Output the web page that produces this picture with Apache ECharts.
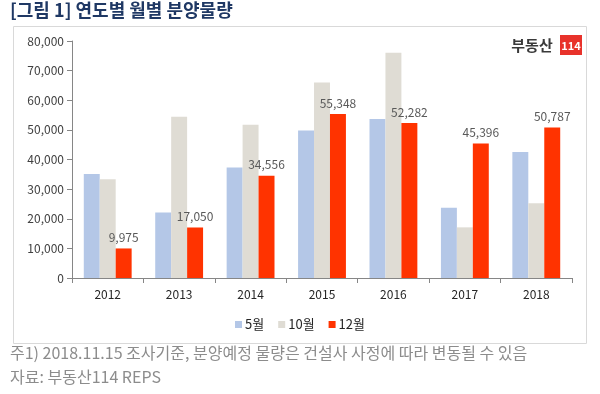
<!DOCTYPE html>
<html><head><meta charset="utf-8">
<script src="https://cdn.jsdelivr.net/npm/echarts@6/dist/echarts.min.js"></script>
<style>html,body{margin:0;padding:0;background:#fff}#c{width:600px;height:394px}</style>
</head><body><div id="c"></div>
<script>
const years = ['2012','2013','2014','2015','2016','2017','2018'];
const seriesNames = ['5월','10월','12월'];
const may = [35100, 22100, 37300, 49800, 53700, 23700, 42500];
const oct = [33300, 54400, 51700, 66000, 76000, 17100, 25200];
const dec = [9975, 17050, 34556, 55348, 52282, 45396, 50787];
const yTicks = [0, 10000, 20000, 30000, 40000, 50000, 60000, 70000, 80000];

const colors = ['#b4c7e7', '#dfdcd4', '#ff3300'];
const font = '"Noto Sans CJK KR", "Noto Sans", sans-serif';
const chart = echarts.init(document.getElementById('c'));
const fmt = v => v.toLocaleString('en-US');
chart.setOption({
  animation: false,
  textStyle: {fontFamily: font},
  grid: {left: 72, right: 28, top: 41, bottom: 116},
  legend: {
    data: seriesNames, bottom: 58, left: 'center', itemWidth: 7, itemHeight: 7, itemGap: 14,
    icon: 'rect', textStyle: {fontSize: 13, color: '#262626', fontFamily: font, padding: [0, 0, 0, -2]}
  },
  xAxis: {
    type: 'category', data: years,
    axisLine: {lineStyle: {color: '#868686'}},
    axisTick: {show: true, length: 5, lineStyle: {color: '#868686'}},
    axisLabel: {fontSize: 12, color: '#262626', margin: 10}
  },
  yAxis: {
    type: 'value', min: yTicks[0], max: yTicks[yTicks.length-1], interval: 10000,
    axisLine: {show: true, lineStyle: {color: '#868686'}},
    axisTick: {show: true, length: 5, lineStyle: {color: '#868686'}},
    splitLine: {show: false},
    axisLabel: {fontSize: 12, color: '#404040', margin: 8, formatter: v => fmt(v)}
  },
  series: [
    {name: seriesNames[0], type: 'bar', data: may, itemStyle: {color: colors[0]}, barGap: '0%', barCategoryGap: '33%'},
    {name: seriesNames[1], type: 'bar', data: oct, itemStyle: {color: colors[1]}, barGap: '0%', barCategoryGap: '33%'},
    {name: seriesNames[2], type: 'bar', data: dec, itemStyle: {color: colors[2]}, barGap: '0%', barCategoryGap: '33%',
      label: {show: true, position: 'top', distance: 5, fontSize: 12, color: '#595959', formatter: p => fmt(p.value)}}
  ],
  graphic: [
    {type: 'text', left: 10, top: 1, style: {text: '[그림 1] 연도별 월별 분양물량', font: 'bold 18px ' + font, fill: '#1f3864'}},
    {type: 'rect', shape: {x: 13.5, y: 26.5, width: 573, height: 317}, style: {fill: 'none', stroke: '#d9d9d9', lineWidth: 1}, z: -1},
    {type: 'text', x: 532, y: 45, style: {text: '부동산', font: 'bold 15px ' + font, fill: '#3a3a3a', align: 'center', verticalAlign: 'middle'}},
    {type: 'rect', shape: {x: 560, y: 35, width: 22, height: 20}, style: {fill: '#e8322b'}},
    {type: 'text', x: 571, y: 45.5, style: {text: '114', font: 'bold 11px ' + font, fill: '#ffffff', align: 'center', verticalAlign: 'middle'}},
    {type: 'text', left: 10, top: 345, style: {text: '주1) 2018.11.15 조사기준, 분양예정 물량은 건설사 사정에 따라 변동될 수 있음', font: '16px ' + font, fill: '#8c8c8c'}},
    {type: 'text', left: 10, top: 369, style: {text: '자료: 부동산114 REPS', font: '16px ' + font, fill: '#8c8c8c'}}
  ]
});
</script></body></html>
